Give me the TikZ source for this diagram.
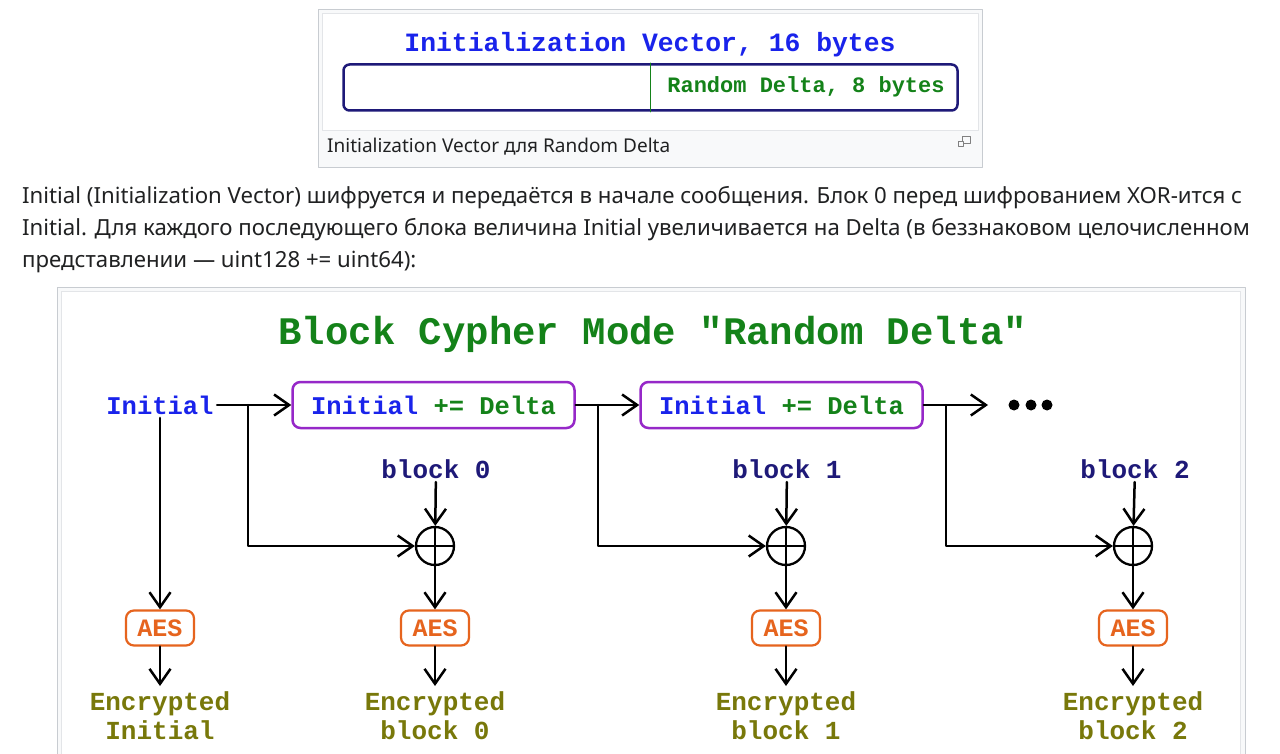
\documentclass[tikz,border=0pt]{standalone}
\usepackage{fontspec}
\setmainfont{Noto Sans}
\setmonofont{Liberation Mono}
\usetikzlibrary{arrows.meta,positioning}
\definecolor{ivblue}{RGB}{25,35,235}
\definecolor{ivgreen}{RGB}{20,130,25}
\definecolor{ivnavy}{RGB}{30,25,120}
\definecolor{boxpurple}{RGB}{150,40,200}
\definecolor{aesorange}{RGB}{230,100,30}
\definecolor{encolive}{RGB}{120,120,10}
\definecolor{wikitext}{RGB}{32,33,34}
\definecolor{framegray}{RGB}{200,204,209}
\definecolor{capbg}{RGB}{248,249,250}

\begin{document}
\begin{tikzpicture}[line cap=round,line join=round,x=1pt,y=-1pt,
    mono/.style={font=\ttfamily\bfseries\fontsize{#1}{29}\selectfont},
    conn/.style={-{Straight Barb[length=15pt,width=21pt]},line width=2.5pt},
    ivframe/.style={draw=ivnavy,line width=2.5pt,rounded corners=6pt,minimum width=614,minimum height=46},
    deltabox/.style={draw=boxpurple,line width=2.5pt,rounded corners=8pt,minimum width=282,minimum height=46,mono=25.5},
    aesbox/.style={draw=aesorange,line width=2.2pt,rounded corners=8pt,minimum width=68,minimum height=35,inner sep=0,mono=25,text=aesorange},
    xorsign/.style={circle,draw,line width=2.3pt,minimum size=38,inner sep=0,
      path picture={\draw[line width=2.3pt] (path picture bounding box.north) -- (path picture bounding box.south)
        (path picture bounding box.west) -- (path picture bounding box.east);}},
    blocklbl/.style={mono=26,text=ivnavy},
    enclbl/.style={mono=26,text=encolive,align=center,anchor=north,inner sep=0},
    para/.style={anchor=base west,inner sep=0,text=wikitext,font=\fontsize{22.2}{31}\selectfont}]
    \useasboundingbox (0,0) rectangle (1280,754);
    \fill[white] (0,0) rectangle (1280,754);

    % thumbnail with the IV layout
    \draw[framegray,fill=capbg] (318.5,9.5) rectangle (982.5,167.5);
    \draw[framegray!50,fill=white] (322.5,13.5) rectangle (978.5,130.5);
    \node[ivframe] (ivbox) at (650.5,87.5) {};
    \draw[ivgreen,line width=1.5pt] (ivbox.north) -- (ivbox.south);
    \node[mono=26.4,text=ivblue] (ivtitle) at (650,45) {Initialization Vector, 16 bytes};
    \node[mono=22,text=ivgreen] (ivdelta) at (806,87) {Random Delta, 8 bytes};
    \node[anchor=base west,inner sep=0,text=wikitext,font=\fontsize{19}{22}\selectfont] (ivcaption) at (327,153) {Initialization Vector для Random Delta};
    \draw[gray,line width=1pt] (962.5,136.5) rectangle (970.5,143.5);
    \draw[gray,line width=1pt,fill=capbg] (958.5,141.5) rectangle (963.5,146.5);

    % paragraph
    \node[para] (line1) at (22,204) {Initial (Initialization Vector) шифруется и передаётся в начале сообщения. Блок 0 перед шифрованием XOR-ится с};
    \node[para] (line2) at (22,236) {Initial. Для каждого последующего блока величина Initial увеличивается на Delta (в беззнаковом целочисленном};
    \node[para] (line3) at (22,267) {представлении — uint128 += uint64):};

    % the mode diagram
    \draw[framegray,fill=capbg] (57.5,287.5) rectangle (1245.5,770);
    \draw[framegray!50,fill=white] (61.5,291.5) rectangle (1240.5,770);
    \node[mono=39,text=ivgreen] (title) at (653,334) {Block Cypher Mode "Random Delta"};

    \node[mono=25.5,text=ivblue] (init) at (160,405) {Initial};
    \node[deltabox] (box1) at (433.5,405) {\color{ivblue}Initial \color{ivgreen}+= Delta};
    \node[deltabox] (box2) at (781.5,405) {\color{ivblue}Initial \color{ivgreen}+= Delta};
    \coordinate (dend) at (988,405);
    \fill (1014,405) circle (5.5) (1031,405) circle (5.5) (1047,405) circle (5.5);
    \coordinate (s0) at (248,405);
    \coordinate (s1) at (598,405);
    \coordinate (s2) at (946,405);

    \node[blocklbl] (blk0) at (436,469) {block 0};
    \node[blocklbl] (blk1) at (787,469) {block 1};
    \node[blocklbl] (blk2) at (1135,469) {block 2};
    \node[xorsign] (xor0) at (435,546) {};
    \node[xorsign] (xor1) at (786,546) {};
    \node[xorsign] (xor2) at (1133,546) {};

    \node[aesbox] (aesi) at (160,628) {AES};
    \node[aesbox] (aes0) at (435,628) {AES};
    \node[aesbox] (aes1) at (786,628) {AES};
    \node[aesbox] (aes2) at (1133,628) {AES};

    \node[enclbl] (enci) at (160,691) {Encrypted\\Initial};
    \node[enclbl] (enc0) at (435,691) {Encrypted\\block 0};
    \node[enclbl] (enc1) at (786,691) {Encrypted\\block 1};
    \node[enclbl] (enc2) at (1133,691) {Encrypted\\block 2};

    \draw[conn] (init) -- (box1);
    \draw[conn] (box1) -- (box2);
    \draw[conn] (box2) -- (dend);
    \draw[conn] (s0) |- (xor0);
    \draw[conn] (s1) |- (xor1);
    \draw[conn] (s2) |- (xor2);
    \draw[conn] (init) -- (aesi);
    \draw[conn] (blk0) -- (xor0);
    \draw[conn] (blk1) -- (xor1);
    \draw[conn] (blk2) -- (xor2);
    \draw[conn] (xor0) -- (aes0);
    \draw[conn] (xor1) -- (aes1);
    \draw[conn] (xor2) -- (aes2);
    \draw[conn,shorten >=5pt] (aesi) -- (enci);
    \draw[conn,shorten >=5pt] (aes0) -- (enc0);
    \draw[conn,shorten >=5pt] (aes1) -- (enc1);
    \draw[conn,shorten >=5pt] (aes2) -- (enc2);
\end{tikzpicture}
\end{document}
